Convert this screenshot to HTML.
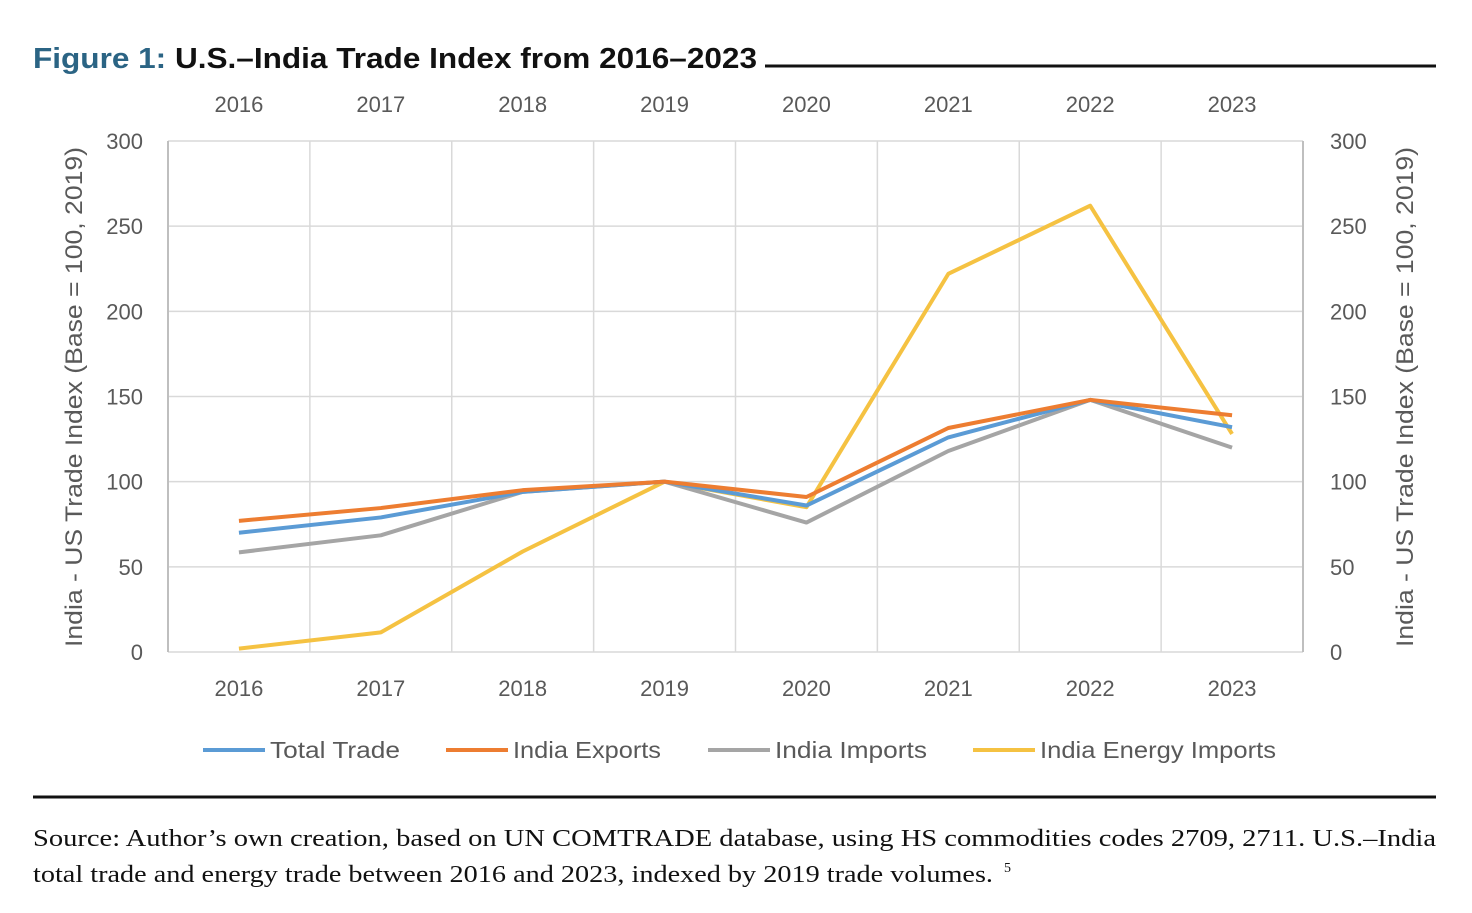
<!DOCTYPE html>
<html><head><meta charset="utf-8"><style>
body{margin:0;background:#fff;width:1472px;height:908px;overflow:hidden;font-family:"Liberation Sans",sans-serif}
</style></head><body>
<svg width="1472" height="908" xmlns="http://www.w3.org/2000/svg">
<text x="33" y="68" font-size="29" font-weight="bold" fill="#2b6484" textLength="724" lengthAdjust="spacingAndGlyphs">Figure 1: <tspan fill="#111">U.S.–India Trade Index from 2016–2023</tspan></text>
<line x1="765" y1="66" x2="1436" y2="66" stroke="#111" stroke-width="3"/>
<g id="grid"></g>
<g id="axes"></g>
<g id="series"></g>
<g id="legend"></g>
<text transform="translate(82,397) rotate(-90)" text-anchor="middle" font-size="24" fill="#595959" textLength="500" lengthAdjust="spacingAndGlyphs">India - US Trade Index (Base = 100, 2019)</text>
<text transform="translate(1413,397) rotate(-90)" text-anchor="middle" font-size="24" fill="#595959" textLength="500" lengthAdjust="spacingAndGlyphs">India - US Trade Index (Base = 100, 2019)</text>
<line x1="33" y1="797" x2="1436" y2="797" stroke="#111" stroke-width="3"/>
<text x="33" y="846" font-size="24" font-family="Liberation Serif,serif" fill="#111" textLength="1403" lengthAdjust="spacingAndGlyphs">Source: Author’s own creation, based on UN COMTRADE database, using HS commodities codes 2709, 2711. U.S.–India</text>
<text x="33" y="882" font-size="24" font-family="Liberation Serif,serif" fill="#111" textLength="960" lengthAdjust="spacingAndGlyphs">total trade and energy trade between 2016 and 2023, indexed by 2019 trade volumes.</text>
<text x="1004" y="872" font-size="14" font-family="Liberation Serif,serif" fill="#111">5</text>
</svg>
<script>
const years=["2016","2017","2018","2019","2020","2021","2022","2023"];
const yTicks=[0,50,100,150,200,250,300];
const totalTrade=[70,79,94,100,86,126,148,132];
const indiaExports=[77,84.5,95,100,91,131.5,148,139];
const indiaImports=[58.5,68.5,94,100,76,118,148,120];
const energyImports=[2,11.5,59,100,85,222,262,128];
const seriesNames=["Total Trade","India Exports","India Imports","India Energy Imports"];
const seriesColors=["#5b9bd5","#ed7d31","#a5a5a5","#f5c242"];
const NS="http://www.w3.org/2000/svg";
const L=168,R=1303,T=141,B=652;
const bw=(R-L)/years.length;
function xs(i){return L+bw*(i+0.5);}
function ys(v){return B-(v/300)*(B-T);}
function mk(tag,attrs,parent,text){const e=document.createElementNS(NS,tag);for(const k in attrs)e.setAttribute(k,attrs[k]);if(text!==undefined)e.textContent=text;document.getElementById(parent).appendChild(e);return e;}
yTicks.forEach(v=>{
 const g=mk("line",{x1:L,x2:R,y1:ys(v),y2:ys(v),stroke:"#d9d9d9","stroke-width":1.5},"grid");
 
 
 const a=mk("text",{x:143,y:ys(v)+8,"text-anchor":"end","font-size":22,fill:"#595959"},"axes",String(v));
 
 
 const b=mk("text",{x:1330,y:ys(v)+8,"font-size":22,fill:"#595959"},"axes",String(v));
 
 
});
for(let i=0;i<=years.length;i++){
 const g=mk("line",{x1:L+bw*i,x2:L+bw*i,y1:T,y2:B,stroke:"#d9d9d9","stroke-width":1.5},"grid");
 
 
}
[[L,"y-axis-left"],[R,"y-axis-right"]].forEach(([x,n])=>{const a=mk("line",{x1:x,x2:x,y1:T,y2:B,stroke:"#bfbfbf","stroke-width":2},"axes");});
years.forEach((y,i)=>{
 const a=mk("text",{x:xs(i),y:112,"text-anchor":"middle","font-size":22,fill:"#595959"},"axes",y);
 
 
 const b=mk("text",{x:xs(i),y:696,"text-anchor":"middle","font-size":22,fill:"#595959"},"axes",y);
 
 
});
const data=[totalTrade,indiaExports,indiaImports,energyImports];
const order=[3,2,0,1];
order.forEach(s=>{
 const p=mk("polyline",{points:data[s].map((v,i)=>xs(i)+","+ys(v)).join(" "),fill:"none",stroke:seriesColors[s],"stroke-width":4,"stroke-linejoin":"round"},"series");
 
 
});
const lx=[203,446,708,973];
const lw=[130,148,152,236];
seriesNames.forEach((n,s)=>{
 const l=mk("line",{x1:lx[s],x2:lx[s]+62,y1:750,y2:750,stroke:seriesColors[s],"stroke-width":4},"legend");
 
 
 const t=mk("text",{x:lx[s]+67,y:758,"font-size":23,fill:"#595959",textLength:lw[s],lengthAdjust:"spacingAndGlyphs"},"legend",n);
 
 
});
</script>
</body></html>
